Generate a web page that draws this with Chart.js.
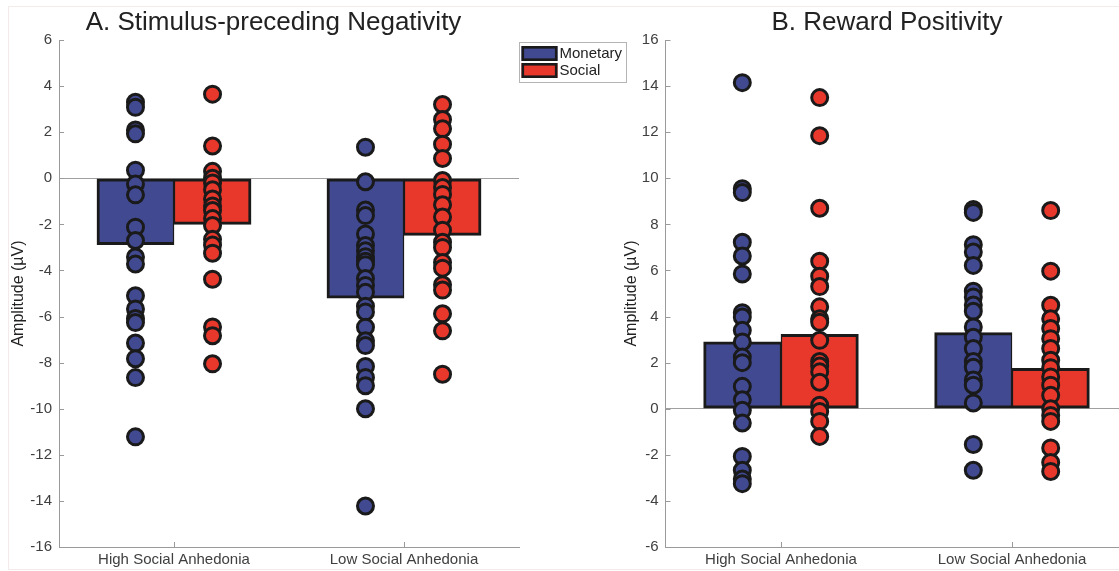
<!DOCTYPE html>
<html><head><meta charset="utf-8">
<script src="https://cdn.jsdelivr.net/npm/chart.js@4.4.1/dist/chart.umd.min.js"></script>
<style>
html,body{margin:0;padding:0;overflow:hidden;background:#fff;width:1119px;height:571px;}
#frame{position:absolute;left:8px;top:6px;width:1130px;height:562px;border:1px solid #f3eaea;}
#wa{position:absolute;left:0;top:0;width:640px;height:571px;}
#wb{position:absolute;left:610px;top:0;width:530px;height:571px;}
</style></head><body>
<div id="frame"></div>
<div id="wa"><canvas id="ca"></canvas></div>
<div id="wb"><canvas id="cb"></canvas></div>
<script>
// ---------- data ----------
const categories = ['High Social Anhedonia', 'Low Social Anhedonia'];
const seriesNames = ['Monetary', 'Social'];
const panelTitles = ['A. Stimulus-preceding Negativity', 'B. Reward Positivity'];
const yAxisTitle = 'Amplitude (\u00b5V)';

// Panel A: stimulus-preceding negativity
const spnTicks = {min: -16, max: 6, step: 2};
const spnMeanMonetary = [-2.88, -5.2];
const spnMeanSocial = [-2.0, -2.48];
const spnHighMonetary = [3.3, 3.08, 2.1, 1.93, 0.35, -0.25, -0.72, -2.12, -2.7, -3.42, -3.72, -5.1, -5.67, -6.08, -6.26, -7.15, -7.83, -8.65, -11.22];
const spnHighSocial = [3.65, 1.4, 0.3, 0.0, -0.2, -0.5, -0.9, -1.2, -1.4, -1.75, -2.05, -2.65, -2.9, -3.25, -4.38, -6.45, -6.83, -8.05];
const spnLowMonetary = [1.35, -0.15, -1.38, -1.62, -2.42, -2.92, -3.15, -3.4, -3.6, -3.75, -4.35, -4.65, -4.95, -5.55, -5.8, -6.46, -7.05, -7.26, -8.17, -8.64, -9.0, -10.0, -14.22];
const spnLowSocial = [3.2, 2.55, 2.15, 1.48, 0.86, -0.1, -0.4, -0.7, -1.15, -1.68, -2.25, -2.78, -3.0, -3.65, -3.9, -4.62, -4.85, -5.88, -6.62, -8.5];

// Panel B: reward positivity
const rewpTicks = {min: -6, max: 16, step: 2};
const rewpMeanMonetary = [2.9, 3.3];
const rewpMeanSocial = [3.23, 1.75];
const rewpHighMonetary = [14.15, 9.55, 9.38, 7.22, 6.63, 5.85, 4.17, 3.98, 3.4, 2.9, 2.24, 2.0, 0.97, 0.39, -0.07, -0.62, -2.07, -2.67, -3.05, -3.25];
const rewpHighSocial = [13.5, 11.85, 8.7, 6.4, 5.75, 5.3, 4.42, 3.9, 3.75, 2.97, 2.05, 1.85, 1.6, 1.15, 0.15, -0.12, -0.55, -1.2];
const rewpLowMonetary = [8.65, 8.52, 7.12, 6.8, 6.22, 5.1, 4.85, 4.5, 4.23, 3.55, 3.1, 2.61, 2.05, 1.8, 1.25, 1.02, 0.25, -1.55, -2.67];
const rewpLowSocial = [8.6, 5.97, 4.49, 3.9, 3.48, 3.04, 2.61, 2.1, 1.78, 1.38, 1.02, 0.58, 0.0, -0.29, -0.55, -1.7, -2.33, -2.72];

// ---------- style ----------
const BLUE = '#414A91';
const RED = '#E8382C';
const EDGE = '#1a1a1a';
const AXIS = '#9a9a9a';
const TXT = '#404040';
const FONT = '"Liberation Sans", Arial, Helvetica, sans-serif';
const GROUP_OFFSET = 0.1675;   // half the group width, in category units

const decor = {
  id: 'decor',
  afterDraw(chart, args, o) {
    const ctx = chart.ctx, ca = chart.chartArea;
    ctx.save();
    // inward tick marks
    ctx.strokeStyle = AXIS; ctx.lineWidth = 1;
    const ys = chart.scales.y;
    ys.ticks.forEach(t => {
      const py = Math.round(ys.getPixelForValue(t.value)) + 0.5;
      ctx.beginPath(); ctx.moveTo(ca.left, py); ctx.lineTo(ca.left + 5, py); ctx.stroke();
    });
    const xs = chart.scales.x;
    xs.ticks.forEach(t => {
      const px = Math.round(xs.getPixelForValue(t.value)) + 0.5;
      ctx.beginPath(); ctx.moveTo(px, ca.bottom); ctx.lineTo(px, ca.bottom - 5); ctx.stroke();
    });
    // panel title
    ctx.fillStyle = '#222';
    ctx.font = '26px ' + FONT;
    ctx.textAlign = 'center'; ctx.textBaseline = 'alphabetic';
    ctx.fillText(o.title, o.titleX, o.titleY);
    // legend
    if (o.legend) {
      const x0 = Math.round(ca.right) + 0.5, y0 = Math.round(ca.top) + 2.5;
      ctx.fillStyle = '#fff'; ctx.strokeStyle = '#b4b4b4'; ctx.lineWidth = 1;
      ctx.fillRect(x0, y0, 107, 40); ctx.strokeRect(x0, y0, 107, 40);
      const bars = chart.data.datasets.filter(d => d.type === 'bar');
      bars.forEach((d, i) => {
        const sx = x0 + 2, sy = y0 + 3.5 + i * 17;
        ctx.fillStyle = d.backgroundColor;
        ctx.fillRect(sx, sy, 36, 15);
        ctx.strokeStyle = EDGE; ctx.lineWidth = 2.6;
        ctx.strokeRect(sx + 1.3, sy + 1.3, 36 - 2.6, 15 - 2.6);
        ctx.fillStyle = '#222'; ctx.font = '15px ' + FONT;
        ctx.textAlign = 'left'; ctx.textBaseline = 'middle';
        ctx.fillText(d.label, sx + 38, sy + 8);
      });
    }
    ctx.restore();
  }
};

function makeChart(canvasId, t, meanM, meanS, hiM, hiS, loM, loS, geom) {
  const off = GROUP_OFFSET;
  const pts = (vals, xpos) => vals.map(v => ({x: xpos, y: v}));
  const barPts = (means, sign) => means.map((v, i) => ({x: i + 1 + sign * off, y: v}));
  const dot = (label, data, color) => ({
    type: 'scatter', label, data, order: 1,
    pointRadius: 8, pointHoverRadius: 8, borderWidth: 3,
    backgroundColor: color, borderColor: EDGE, pointBackgroundColor: color, pointBorderColor: EDGE
  });
  const bar = (label, data, color, bw) => ({
    type: 'bar', label, data, order: 2, grouped: false,
    backgroundColor: color, borderColor: EDGE, borderWidth: bw, borderSkipped: false,
    categoryPercentage: 1, barPercentage: 1
  });
  return new Chart(document.getElementById(canvasId), {
    type: 'bar',
    data: {
      datasets: [
        bar(seriesNames[0], barPts(meanM, -1), BLUE, {top: 3, bottom: 3, left: 3, right: 1.5}),
        bar(seriesNames[1], barPts(meanS, 1), RED, {top: 3, bottom: 3, left: 1.5, right: 3}),
        dot(seriesNames[0] + ' (high)', pts(hiM, 1 - off), BLUE),
        dot(seriesNames[1] + ' (high)', pts(hiS, 1 + off), RED),
        dot(seriesNames[0] + ' (low)', pts(loM, 2 - off), BLUE),
        dot(seriesNames[1] + ' (low)', pts(loS, 2 + off), RED)
      ]
    },
    options: {
      responsive: true, maintainAspectRatio: false, animation: false,
      events: [],
      layout: {padding: {top: 40, bottom: 0, left: 0, right: geom.padRight}},
      plugins: {
        legend: {display: false}, tooltip: {enabled: false}, title: {display: false},
        decor: geom.decor
      },
      scales: {
        x: {
          type: 'linear', offset: false, position: 'bottom', min: 0.5, max: categories.length + 0.5,
          grid: {display: false, drawTicks: false, offset: false},
          border: {display: true, color: AXIS, width: 1},
          afterBuildTicks: s => { s.ticks = categories.map((c, i) => ({value: i + 1})); },
          ticks: {color: TXT, font: {family: FONT, size: 15}, padding: 4, maxRotation: 0, autoSkip: false,
                  callback: v => categories[Math.round(v) - 1]},
          afterFit: s => { s.height = 24; }
        },
        y: {
          type: 'linear', position: 'left', min: t.min, max: t.max,
          grid: {drawTicks: false, color: c => (c.tick && c.tick.value === 0) ? '#a0a0a0' : 'rgba(0,0,0,0)', lineWidth: 1},
          border: {display: true, color: AXIS, width: 1},
          ticks: {stepSize: t.step, autoSkip: false, color: TXT, font: {family: FONT, size: 15}, padding: 7},
          title: {display: true, text: yAxisTitle, color: '#222', font: {family: FONT, size: 16}, padding: {top: geom.titlePad, bottom: 0}},
          afterFit: s => { s.width = geom.yWidth; }
        }
      }
    },
    plugins: [decor]
  });
}

makeChart('ca', spnTicks, spnMeanMonetary, spnMeanSocial, spnHighMonetary, spnHighSocial, spnLowMonetary, spnLowSocial,
  {padRight: 121, yWidth: 59, titlePad: 9, decor: {title: panelTitles[0], titleX: 273.5, titleY: 29.5, legend: true}});
makeChart('cb', rewpTicks, rewpMeanMonetary, rewpMeanSocial, rewpHighMonetary, rewpHighSocial, rewpLowMonetary, rewpLowSocial,
  {padRight: 12.5, yWidth: 55.5, titlePad: 12, decor: {title: panelTitles[1], titleX: 277, titleY: 29.5, legend: false}});
</script>
</body></html>
